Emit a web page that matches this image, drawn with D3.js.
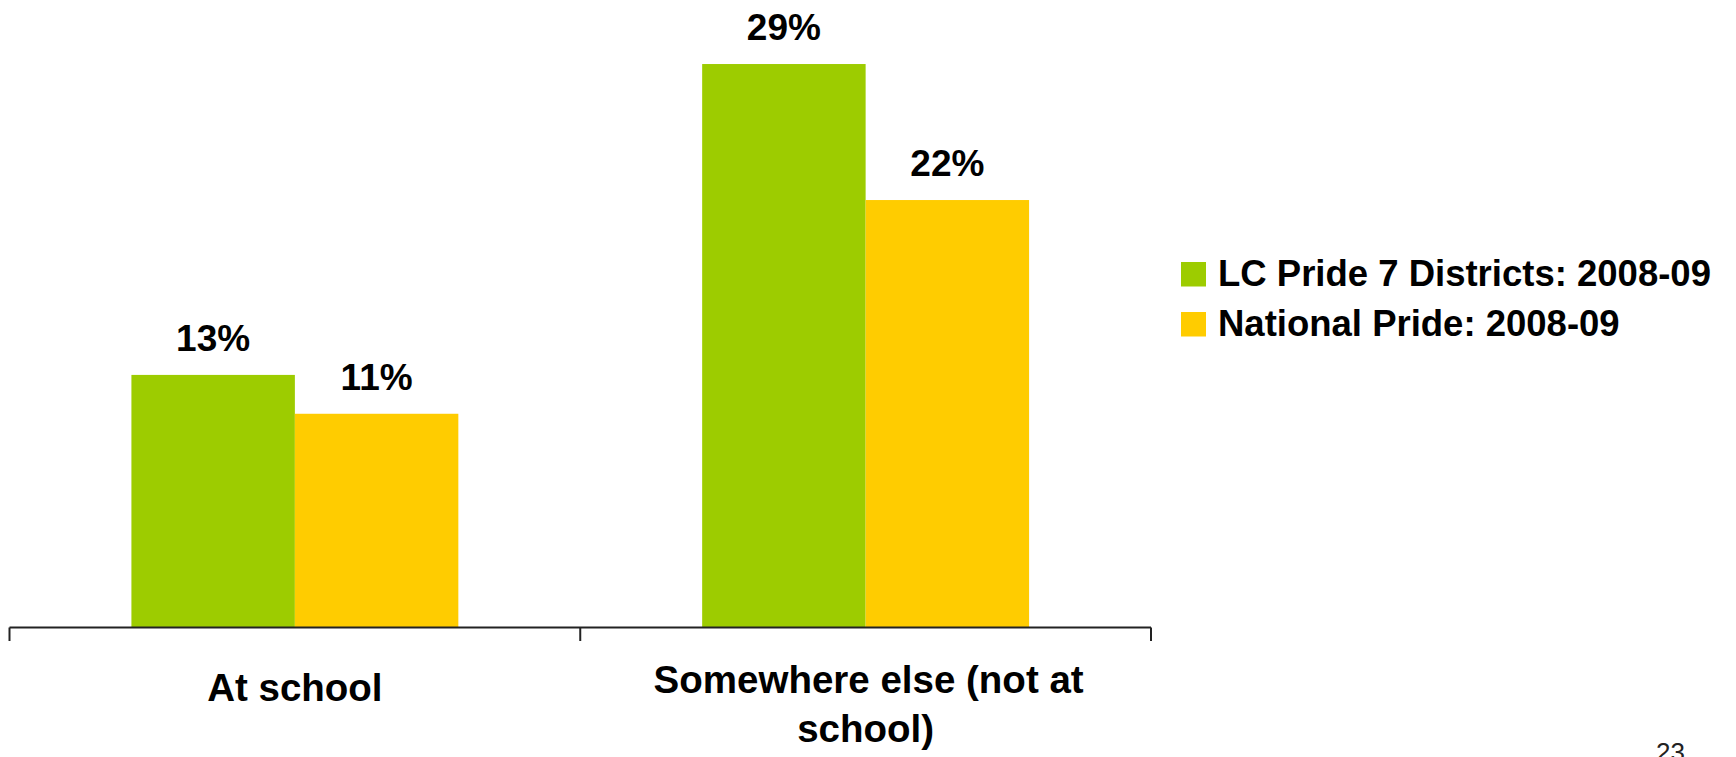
<!DOCTYPE html>
<html>
<head>
<meta charset="utf-8">
<script src="https://cdn.jsdelivr.net/npm/d3@7"></script>
<style>
  html, body { margin: 0; padding: 0; background: #fff; }
  svg { display: block; }
  text { font-family: "Liberation Sans", Arial, sans-serif; }
</style>
</head>
<body>
<script>
const categories = ["At school", "Somewhere else (not at school)"];
const categoryLines = [["At school"], ["Somewhere else (not at", "school)"]];
const seriesNames = ["LC Pride 7 Districts: 2008-09", "National Pride: 2008-09"];
const seriesLC = [13, 29];
const seriesNational = [11, 22];
const seriesColors = ["#9dcc00", "#ffcc00"];
const pageNumber = "23";

const W = 1736, H = 757;
const svg = d3.select("body").append("svg").attr("width", W).attr("height", H);

const axisY = 627.5;
const x0 = d3.scaleBand().domain(categories).range([9.5, 1151]).padding(0);
const bw = x0.bandwidth();
const x1 = d3.scaleBand().domain(seriesNames).range([bw * 0.2136, bw * 0.7864]).padding(0);
const y = d3.scaleLinear().domain([0, 30]).range([axisY, axisY - 30 * 19.43]);

const data = categories.map((c, i) => ({
  cat: c,
  vals: [{ s: seriesNames[0], v: seriesLC[i], color: seriesColors[0] },
         { s: seriesNames[1], v: seriesNational[i], color: seriesColors[1] }]
}));

const g = svg.append("g");
const groups = g.selectAll("g.grp").data(data).enter().append("g")
  .attr("transform", d => `translate(${x0(d.cat)},0)`);

groups.selectAll("rect").data(d => d.vals).enter().append("rect")
  .attr("x", d => x1(d.s))
  .attr("y", d => y(d.v))
  .attr("width", x1.bandwidth())
  .attr("height", d => axisY - y(d.v))
  .attr("fill", d => d.color);

groups.selectAll("text.lbl").data(d => d.vals).enter().append("text")
  .attr("class", "lbl")
  .attr("x", d => x1(d.s) + x1.bandwidth() / 2)
  .attr("y", d => y(d.v) - 24)
  .attr("text-anchor", "middle")
  .attr("font-size", 37)
  .attr("font-weight", "bold")
  .attr("fill", "#000")
  .text(d => d3.format(".0f")(d.v) + "%");

// axis line and ticks
const axisG = svg.append("g").attr("stroke", "#222").attr("stroke-width", 2).attr("fill", "none");
axisG.append("line").attr("x1", x0.range()[0]).attr("x2", x0.range()[1]).attr("y1", axisY).attr("y2", axisY);
const tickXs = [x0.range()[0]].concat(categories.map(c => x0(c) + bw));
axisG.selectAll("line.tick").data(tickXs).enter().append("line")
  .attr("class", "tick")
  .attr("x1", d => d).attr("x2", d => d)
  .attr("y1", axisY).attr("y2", 641);

// category labels
const baselines = [[701], [693, 742]];
categoryLines.forEach((lines, i) => {
  const cx = x0(categories[i]) + bw / 2;
  lines.forEach((ln, j) => {
    svg.append("text")
      .attr("x", cx + (i === 1 && j === 0 ? 3 : 0))
      .attr("y", baselines[i][j])
      .attr("text-anchor", "middle")
      .attr("font-size", 38.5)
      .attr("font-weight", "bold")
      .attr("fill", "#000")
      .text(ln);
  });
});

// legend
const legend = svg.append("g").attr("transform", "translate(1181,262)");
seriesNames.forEach((s, i) => {
  legend.append("rect").attr("x", 0).attr("y", i * 50).attr("width", 25).attr("height", 24.5).attr("fill", seriesColors[i]);
  legend.append("text").attr("x", 37).attr("y", i * 50 + 24)
    .attr("font-size", 36.5).attr("font-weight", "bold").attr("fill", "#000").text(s);
});

// page number
svg.append("text").attr("x", 1656).attr("y", 761)
  .attr("font-size", 26).attr("fill", "#222").text(pageNumber);
</script>
</body>
</html>
